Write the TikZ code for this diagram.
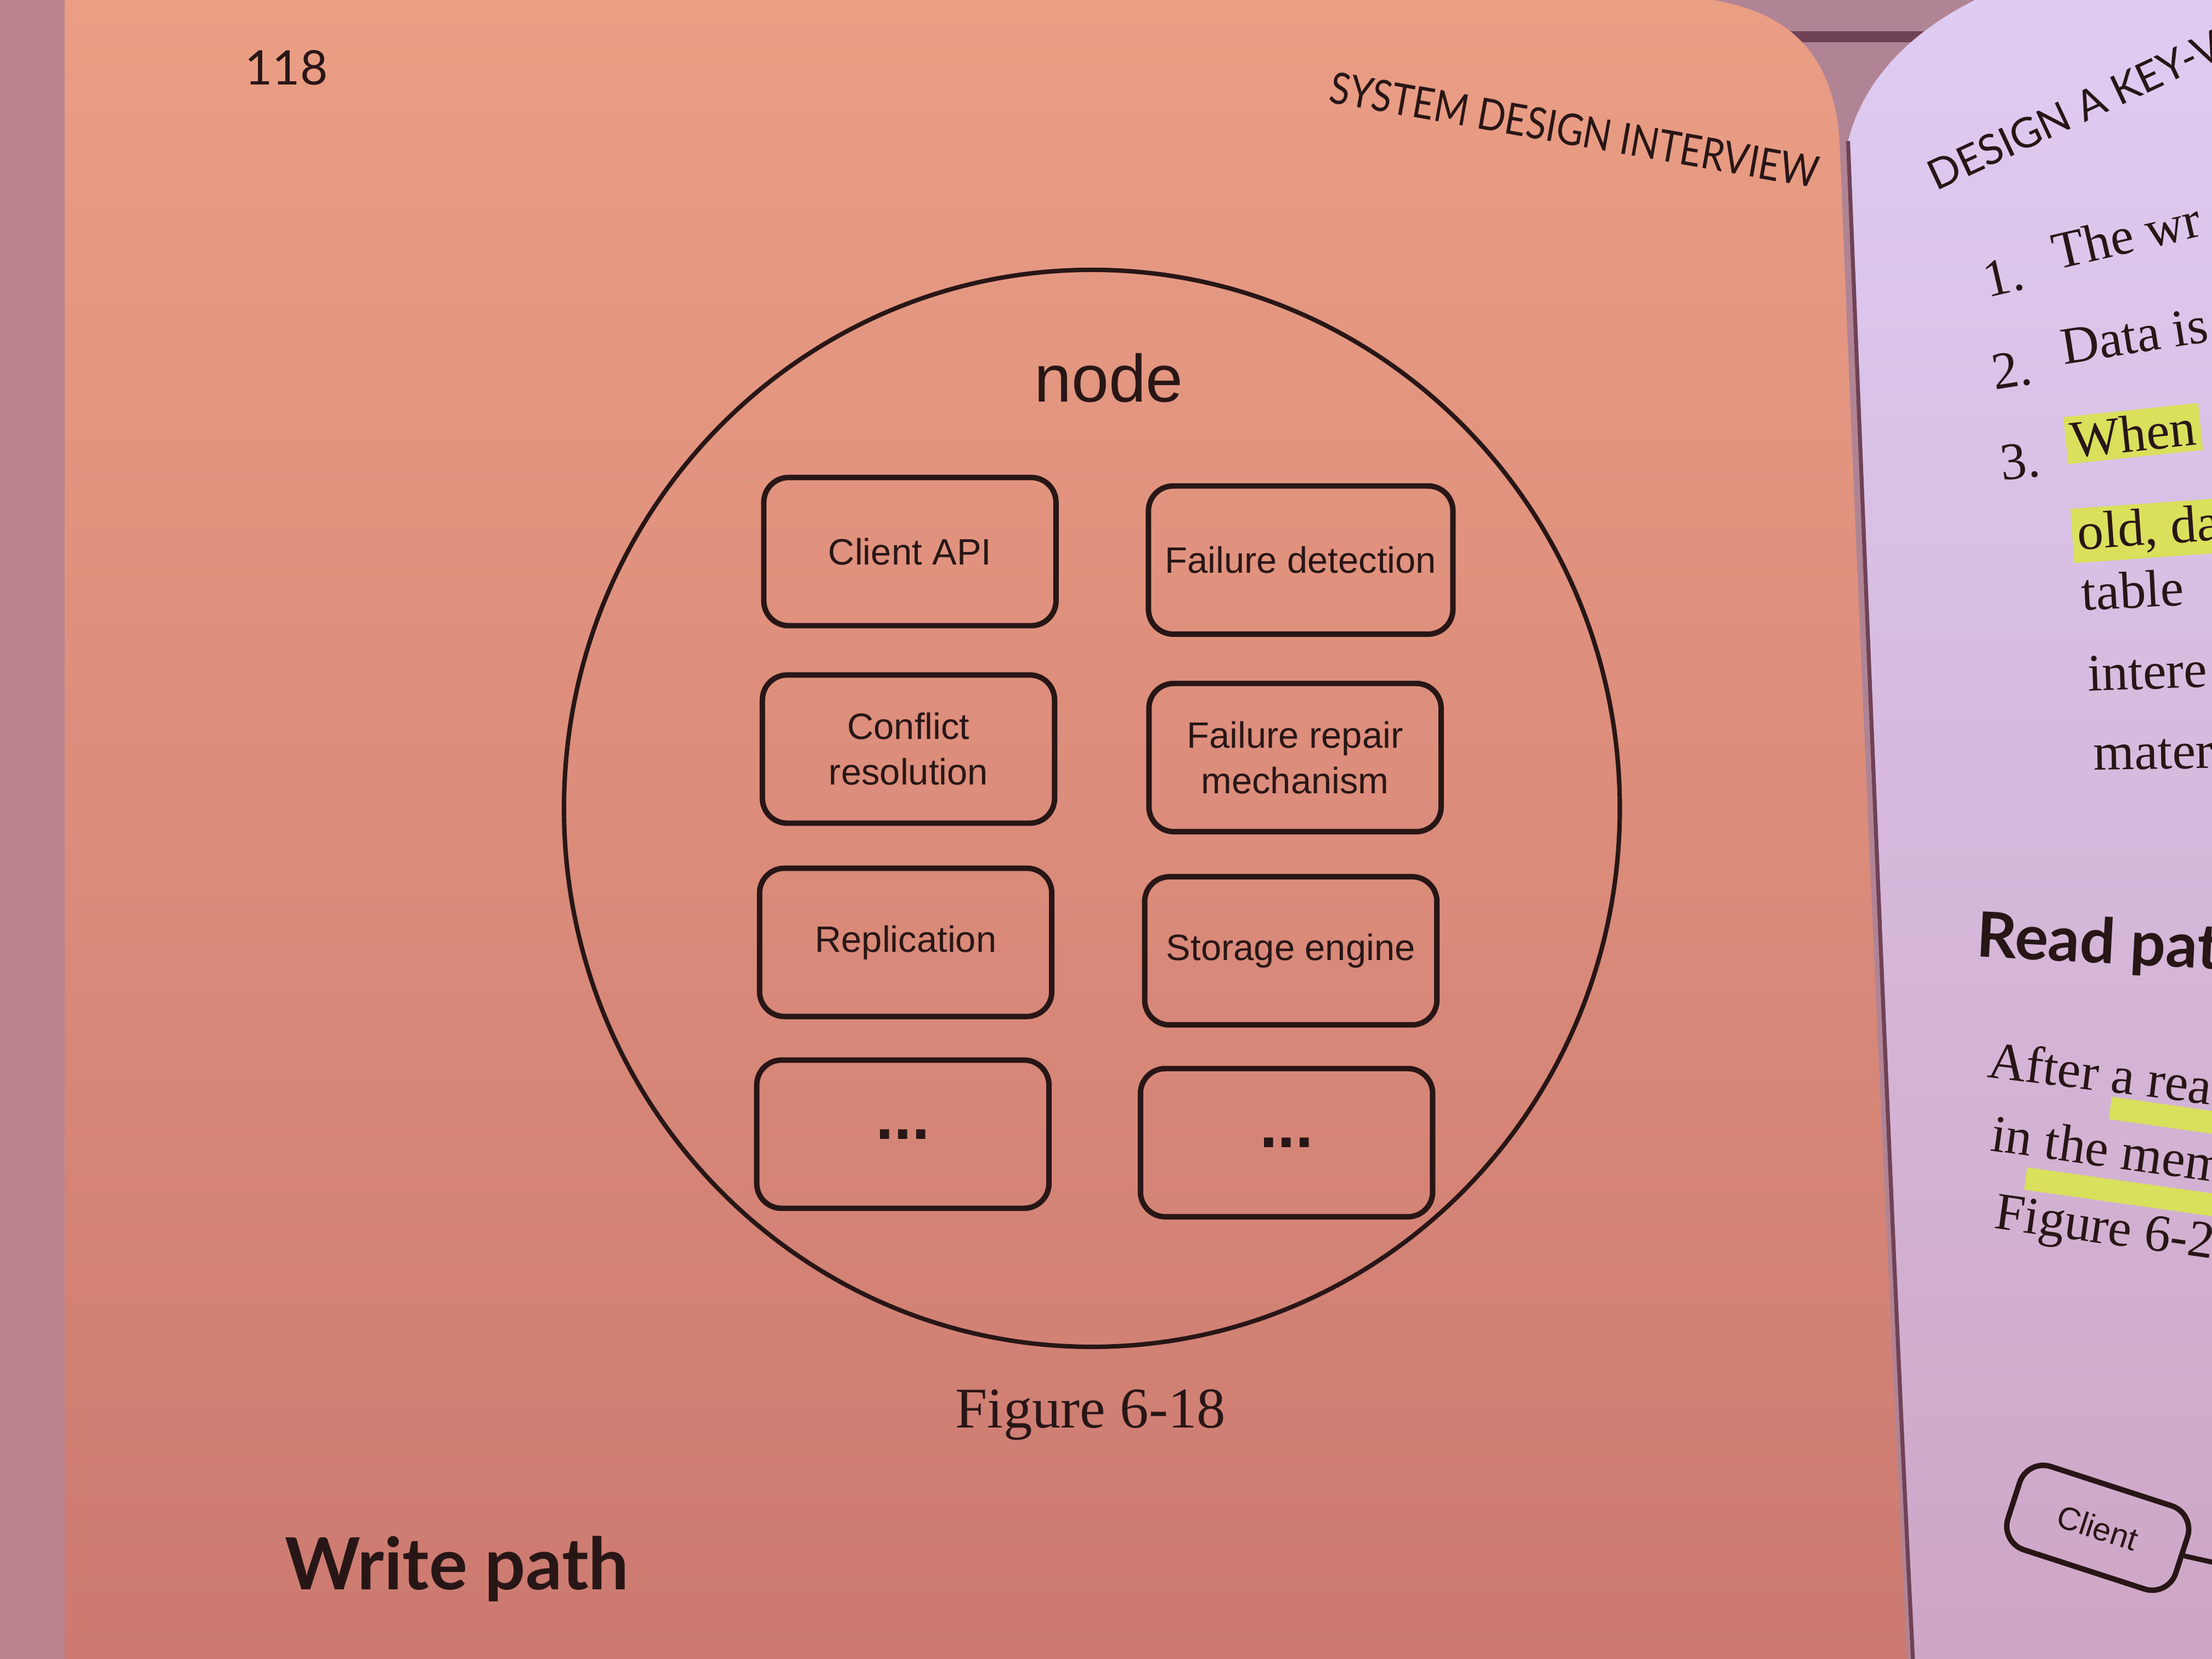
\documentclass[tikz,border=0pt]{standalone}
\usepackage{fontspec}
\setmainfont{Liberation Serif}
\setsansfont{Liberation Sans}
\newfontfamily\gillfont{Lato}
\usetikzlibrary{positioning, shapes.geometric}

\definecolor{ink}{RGB}{40,22,22}
\definecolor{pagetop}{RGB}{234,158,132}
\definecolor{pagebot}{RGB}{204,122,113}
\definecolor{pageedge}{RGB}{186,132,140}
\definecolor{lavtop}{RGB}{222,204,242}
\definecolor{lavbot}{RGB}{206,166,198}
\definecolor{gap}{RGB}{176,132,148}
\definecolor{seam}{RGB}{112,66,86}
\definecolor{hilite}{RGB}{216,224,92}

\begin{document}
\begin{tikzpicture}[
    x=0.01cm, y=-0.01cm,
    part/.style={
        rectangle,
        draw=ink,
        line width=1.1pt,
        rounded corners=5pt,
        minimum width=2.07cm,
        minimum height=1.05cm,
        align=center,
        text=ink,
        font=\sffamily\fontsize{7.4}{9.2}\selectfont
    },
    dots/.style={
        text=ink,
        inner sep=0pt,
        font=\sffamily\bfseries\fontsize{13}{13}\selectfont
    },
    host/.style={
        ellipse,
        draw=ink,
        line width=0.9pt,
        minimum width=7.48cm,
        minimum height=7.63cm,
        inner sep=0pt
    },
    bodytxt/.style={
        anchor=base west,
        text=ink,
        inner sep=1pt,
        font=\fontsize{10.6}{12}\selectfont
    },
    marked/.style={
        bodytxt,
        fill=hilite
    }
]
\useasboundingbox (0,0) rectangle (1568,1176);

% Pages
\fill[gap] (0,0) rectangle (1568,1176);
\fill[seam] (1240,22) rectangle (1380,30);
\fill[pageedge] (0,0) rectangle (46,1176);
\shade[top color=pagetop, bottom color=pagebot]
    (46,0) -- (1214,0) .. controls (1275,10) and (1300,45) .. (1304,100)
    .. controls (1320,500) and (1338,900) .. (1352,1176) -- (46,1176) -- cycle;
\shade[top color=lavtop, bottom color=lavbot]
    (1310,100) .. controls (1326,500) and (1342,900) .. (1356,1176)
    -- (1568,1176) -- (1568,0) -- (1400,0)
    .. controls (1350,25) and (1320,60) .. (1310,100) -- cycle;
\draw[seam, line width=0.8pt] (1310,100) .. controls (1326,500) and (1342,900) .. (1356,1176);

% Left page text
\node[text=ink, font=\gillfont\fontsize{9.6}{10}\selectfont] (pageno) at (203,48) {118};
\node[text=ink, rotate=-10, xscale=0.85, font=\gillfont\fontsize{8.8}{10}\selectfont] (runhead) at (1116,92)
    {SYSTEM DESIGN INTERVIEW};
\node[text=ink, font=\fontsize{11.6}{12}\selectfont] (caption) at (773,1003) {Figure 6-18};
\node[text=ink, font=\gillfont\bfseries\fontsize{14.5}{15}\selectfont] (writepath) at (324,1112)
    {Write path};

% Node with its components
\node[host] (node) at (774,573) {};
\node[text=ink, font=\sffamily\fontsize{13.5}{14}\selectfont] (nodelbl) at (786,268) {node};

\node[part] (clientapi) at (645,391) {Client API};
\node[part] (faildetect) at (922,397) {Failure detection};
\node[part] (conflict) at (644,531) {Conflict\\resolution};
\node[part] (failrepair) at (918,537) {Failure repair\\mechanism};
\node[part] (replication) at (642,668) {Replication};
\node[part] (storage) at (915,674) {Storage engine};
\node[part] (moreleft) at (640,804) {};
\node[part] (moreright) at (912,810) {};
\node[dots] at (moreleft.center) {...};
\node[dots] at (moreright.center) {...};

% Right page text
\begin{scope}
\clip (1310,100) .. controls (1326,500) and (1342,900) .. (1356,1176)
    -- (1568,1176) -- (1568,0) -- (1400,0)
    .. controls (1350,25) and (1320,60) .. (1310,100) -- cycle;
\node[anchor=base west, text=ink, rotate=25, inner sep=0pt,
      font=\gillfont\fontsize{8.4}{9}\selectfont] (rhead) at (1372,136) {DESIGN A KEY-V};
\node[bodytxt, rotate=13] (n1) at (1405,212) {1.};
\node[bodytxt, rotate=13] (l1) at (1454,192) {The wr};
\node[bodytxt, rotate=9] (n2) at (1410,277) {2.};
\node[bodytxt, rotate=9] (l2) at (1459,259) {Data is};
\node[bodytxt, rotate=6] (n3) at (1415,341) {3.};
\node[marked, rotate=6] (l3) at (1465,325) {When};
\node[marked, rotate=4] (l4) at (1469,390) {old, da};
\node[bodytxt, rotate=3] (l5) at (1472,433) {table};
\node[bodytxt, rotate=2] (l6) at (1476,490) {intere};
\node[bodytxt, rotate=1] (l7) at (1480,546) {mater};
\node[anchor=base west, text=ink, rotate=-3, inner sep=0pt,
      font=\gillfont\bfseries\fontsize{12.6}{14}\selectfont] (readpath) at (1400,678) {Read pat};
\fill[hilite, rotate around={-8:(1500,785)}] (1496,778) rectangle (1580,794);
\fill[hilite, rotate around={-8:(1440,835)}] (1436,828) rectangle (1580,844);
\node[bodytxt, rotate=-7] (l8) at (1404,763) {After a read};
\node[bodytxt, rotate=-8] (l9) at (1406,815) {in the mem};
\node[bodytxt, rotate=-8] (l10) at (1409,870) {Figure 6-20};
\node[part, rotate=-18, minimum width=1.25cm, minimum height=0.62cm,
      font=\sffamily\fontsize{6.5}{7}\selectfont] (client) at (1487,1083) {Client};
\coordinate (clientout) at (1580,1110);
\draw[ink, line width=1pt] (client.east) -- (clientout);
\end{scope}

\end{tikzpicture}
\end{document}
